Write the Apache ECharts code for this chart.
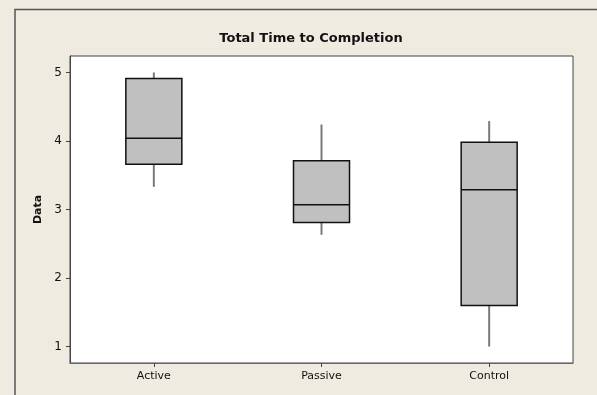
<!DOCTYPE html>
<html>
<head>
<meta charset="utf-8">
<script src="https://cdn.jsdelivr.net/npm/echarts@6/dist/echarts.min.js"></script>
<style>
  html, body { margin: 0; padding: 0; background: #efebe1; }
  #chart { width: 597px; height: 395px; }
</style>
</head>
<body>
<div id="chart"></div>
<script>
const categories = ['Active', 'Passive', 'Control'];
const mins    = [3.33, 2.63, 1.00];
const q1s     = [3.66, 2.81, 1.60];
const medians = [4.04, 3.07, 3.29];
const q3s     = [4.91, 3.71, 3.98];
const maxs    = [5.00, 4.24, 4.29];
const yTicks  = [1, 2, 3, 4, 5];

const boxData = categories.map((c, i) => [i, mins[i], q1s[i], medians[i], q3s[i], maxs[i]]);

const chart = echarts.init(document.getElementById('chart'), null, { renderer: 'canvas' });

chart.setOption({
  backgroundColor: '#efebe1',
  animation: false,
  title: {
    text: 'Total Time to Completion',
    left: 306,
    textAlign: 'center',
    top: 27,
    textStyle: { fontFamily: 'DejaVu Sans', fontWeight: 'bold', fontSize: 13, color: '#111' }
  },
  graphic: [{
    type: 'polyline',
    shape: { points: [[15, 400], [15, 9.5], [600, 9.5]] },
    style: { stroke: '#555', lineWidth: 1.5, fill: null },
    silent: true
  }],
  grid: {
    left: 70, top: 56, right: 24, bottom: 32,
    show: true, backgroundColor: '#ffffff', borderColor: '#444', borderWidth: 1
  },
  xAxis: {
    type: 'category',
    data: categories,
    boundaryGap: true,
    axisLine: { show: true, lineStyle: { color: '#666', width: 1 } },
    axisTick: { show: true, alignWithLabel: true, length: 4, lineStyle: { color: '#444' } },
    axisLabel: { margin: 8, fontFamily: 'DejaVu Sans', fontSize: 11, color: '#111' },
    splitLine: { show: false }
  },
  yAxis: {
    type: 'value',
    min: 0.76, max: 5.24,
    name: 'Data',
    nameLocation: 'middle',
    nameGap: 26,
    nameRotate: 90,
    nameTextStyle: { fontFamily: 'DejaVu Sans', fontWeight: 'bold', fontSize: 11, color: '#111' },
    axisLine: { show: true, lineStyle: { color: '#444', width: 1 } },
    axisTick: { show: true, length: 4, customValues: yTicks, lineStyle: { color: '#444' } },
    axisLabel: { margin: 8, customValues: yTicks, fontFamily: 'DejaVu Sans', fontSize: 12, color: '#111' },
    splitLine: { show: false }
  },
  series: [{
    type: 'custom',
    data: boxData,
    encode: { x: 0, y: [1, 2, 3, 4, 5] },
    renderItem: function (params, api) {
      const idx = api.value(0);
      const pMin = api.coord([idx, api.value(1)]);
      const pQ1  = api.coord([idx, api.value(2)]);
      const pMed = api.coord([idx, api.value(3)]);
      const pQ3  = api.coord([idx, api.value(4)]);
      const pMax = api.coord([idx, api.value(5)]);
      const w = api.size([1, 0])[0] * 0.334;
      const x = pMed[0];
      const whiskerStyle = { stroke: '#7a7a7a', lineWidth: 2 };
      return {
        type: 'group',
        children: [
          { type: 'line', shape: { x1: x, y1: pQ3[1], x2: x, y2: pMax[1] }, style: whiskerStyle },
          { type: 'line', shape: { x1: x, y1: pQ1[1], x2: x, y2: pMin[1] }, style: whiskerStyle },
          { type: 'rect', shape: { x: x - w / 2, y: pQ3[1], width: w, height: pQ1[1] - pQ3[1] },
            style: { fill: '#c0c0c0', stroke: '#111', lineWidth: 1.5 } },
          { type: 'line', shape: { x1: x - w / 2, y1: pMed[1], x2: x + w / 2, y2: pMed[1] },
            style: { stroke: '#111', lineWidth: 1.5 } }
        ]
      };
    }
  }]
});
</script>
</body>
</html>
